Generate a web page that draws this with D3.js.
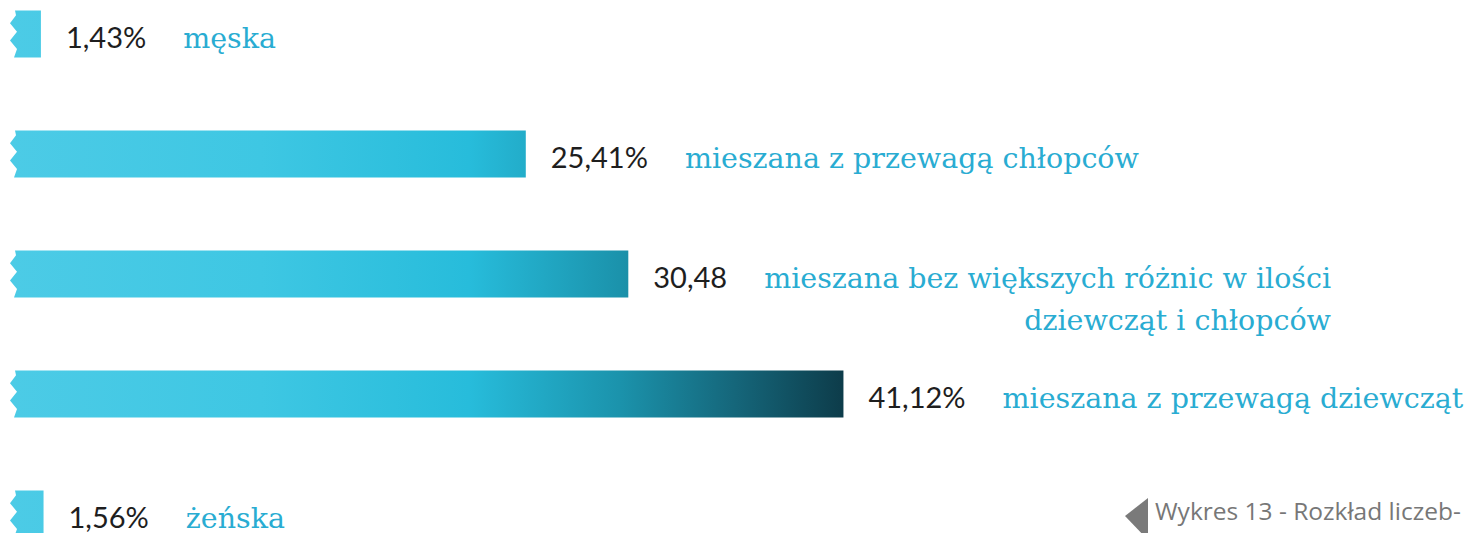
<!DOCTYPE html>
<html>
<head>
<meta charset="utf-8">
<script src="https://cdn.jsdelivr.net/npm/d3@7"></script>
<style>
  html, body { margin: 0; padding: 0; background: #fff; }
  svg { display: block; }
</style>
</head>
<body>
<svg width="1470" height="533"></svg>
<script>
// tape-style horizontal bars

var categories = ["meska", "chlopcy", "rowno", "dziewczeta", "zenska"];
var values = [1.43, 25.41, 30.48, 41.12, 1.56];
var valueLabels = ["1,43%", "25,41%", "30,48", "41,12%", "1,56%"];
var labelLines = [
    ["męska"],
    ["mieszana z przewagą chłopców"],
    ["mieszana bez większych różnic w ilości", "dziewcząt i chłopców"],
    ["mieszana z przewagą dziewcząt"],
    ["żeńska"]
];
var footnote = "Wykres 13 - Rozkład liczeb-";

var svg = d3.select("svg"),
    barHeight = 47;

// x scale: percent -> pixels from the torn left edge
var xScale = d3.scaleLinear()
               .domain([0, 50])
               .range([12, 1023]);

// y scale: one row per category
var yScale = d3.scalePoint()
               .domain(categories)
               .range([34, 514]);

// shared gradient along the whole width, so longer bars get darker
var defs = svg.append("defs");
var grad = defs.append("linearGradient")
               .attr("id", "tape")
               .attr("gradientUnits", "userSpaceOnUse")
               .attr("x1", xScale(0)).attr("x2", xScale(41.12))
               .attr("y1", 0).attr("y2", 0);
grad.append("stop").attr("offset", "0").attr("stop-color", "#4ccbe6");
grad.append("stop").attr("offset", "0.3").attr("stop-color", "#3ec7e3");
grad.append("stop").attr("offset", "0.55").attr("stop-color", "#27bcdb");
grad.append("stop").attr("offset", "0.73").attr("stop-color", "#1b93ac");
grad.append("stop").attr("offset", "0.87").attr("stop-color", "#15667a");
grad.append("stop").attr("offset", "1").attr("stop-color", "#0d3c4a");

// bar with zigzag left edge
var tapePath = function(d, i) {
    var x0 = xScale(0),
        x1 = xScale(d),
        y0 = yScale(categories[i]) - barHeight / 2,
        h = barHeight;
    var pts = [
        [x0 + 3, y0],
        [x1, y0],
        [x1, y0 + h],
        [x0 + 2, y0 + h],
        [x0 + 5, y0 + h * 0.82],
        [x0 - 2, y0 + h * 0.64],
        [x0 + 5, y0 + h * 0.45],
        [x0 - 2, y0 + h * 0.27],
        [x0 + 4, y0 + h * 0.1]
    ];
    return "M" + pts.map(function(p) { return p.join(","); }).join("L") + "Z";
};

svg.append("g")
   .selectAll("path")
   .data(values)
   .enter().append("path")
   .attr("d", tapePath)
   .attr("fill", "url(#tape)");

// value and category labels
var rows = svg.append("g")
              .selectAll("g")
              .data(values)
              .enter().append("g");

rows.each(function(d, i) {
    var g = d3.select(this),
        cy = yScale(categories[i]) + 14;

    var val = g.append("text")
               .attr("x", xScale(d) + 25)
               .attr("y", cy)
               .attr("font-family", "Lato, 'Open Sans', sans-serif")
               .attr("font-size", 29)
               .attr("fill", "#1e1e1e")
               .text(valueLabels[i]);

    var lx = xScale(d) + 25 + val.node().getComputedTextLength() + 37;
    var lines = labelLines[i];
    var first = g.append("text")
                 .attr("x", lx)
                 .attr("y", cy)
                 .attr("font-family", "'DejaVu Serif', serif")
                 .attr("font-size", 28.5)
                 .attr("fill", "#29acd2")
                 .text(lines[0]);
    if (lines.length > 1) {
        var w = first.node().getComputedTextLength();
        g.append("text")
         .attr("x", lx + w)
         .attr("y", cy + 42)
         .attr("text-anchor", "end")
         .attr("font-family", "'DejaVu Serif', serif")
         .attr("font-size", 28.5)
         .attr("fill", "#29acd2")
         .text(lines[1]);
    }
});

// footnote with small arrow
svg.append("path")
   .attr("d", "M1125,516L1148,498L1148,540Z")
   .attr("fill", "#7a7a7a");

svg.append("text")
   .attr("x", 1155)
   .attr("y", 520)
   .attr("font-family", "'Open Sans', sans-serif")
   .attr("font-size", 24.5)
   .attr("fill", "#777")
   .text(footnote);
</script>
</body>
</html>
